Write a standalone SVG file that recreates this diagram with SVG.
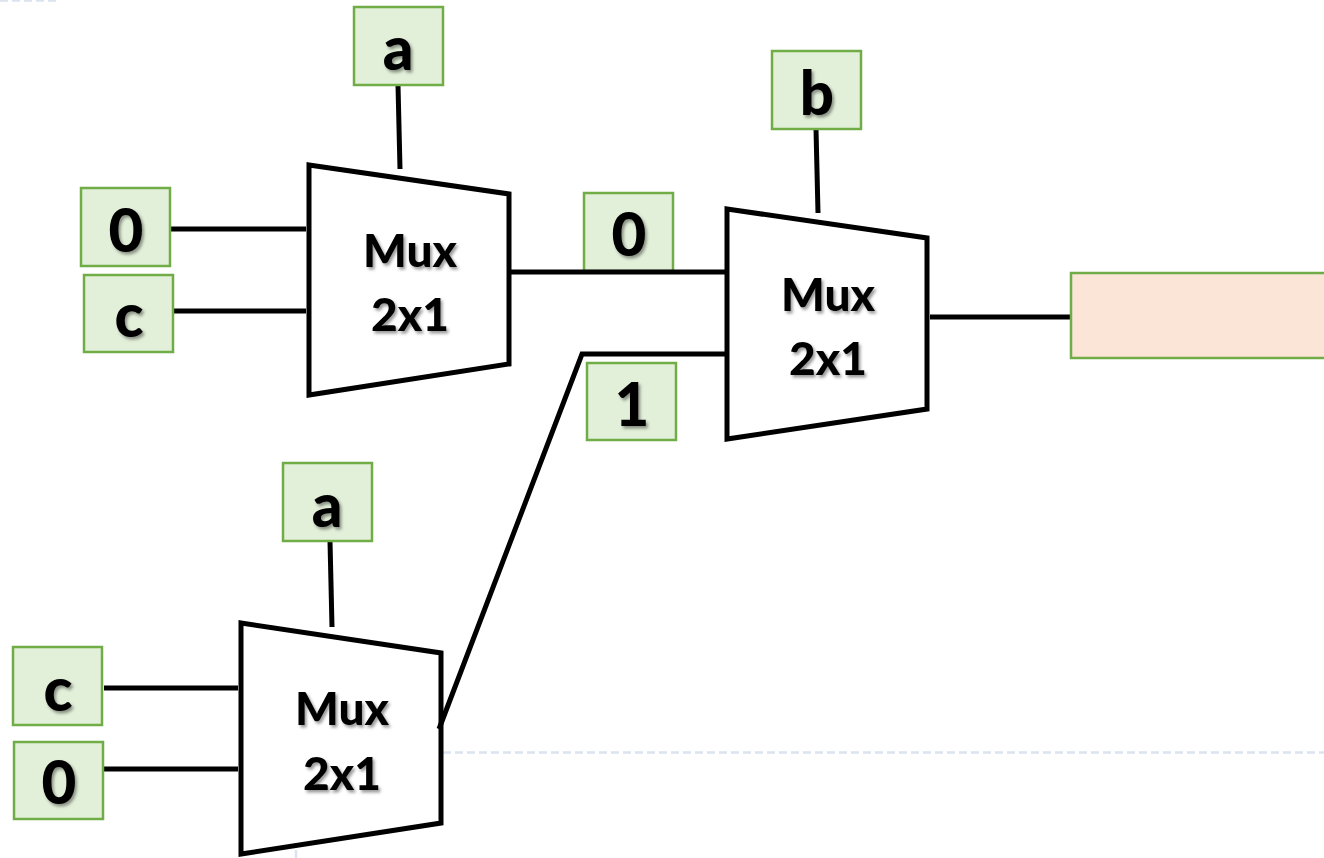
<svg xmlns="http://www.w3.org/2000/svg" width="1324" height="858" viewBox="0 0 1324 858">
<style>
.box{fill:#e2efd9;stroke:#70ad47;stroke-width:2.5}
.out{fill:#fbe5d6;stroke:#70ad47;stroke-width:2.5}
.mux{fill:#fff;stroke:#000;stroke-width:5;stroke-linejoin:miter}
.wire{fill:none;stroke:#000;stroke-width:5}
.guide{fill:none;stroke:#dae3ef;stroke-width:2.5;stroke-dasharray:8 4}
text{font-family:"Lato","Open Sans","Liberation Sans",sans-serif;font-weight:900;fill:#000;text-anchor:middle;filter:url(#sh)}
.big{font-size:60px}
.small{font-size:46px}
</style>
<defs>
<filter id="sh" x="-30%" y="-30%" width="160%" height="160%"><feDropShadow dx="2" dy="2.5" stdDeviation="1.5" flood-color="#000" flood-opacity="0.4"/></filter>
</defs>
<g id="guides">
<path class="guide" d="M0 0.5H57"/>
<path class="guide" d="M443 752.500H1324"/>
<path class="guide" d="M296 850V858" stroke-dasharray="none"/>
</g>
<g id="connectors">
<path class="wire" d="M398 85L400 169"/>
<path class="wire" d="M171 229H306"/>
<path class="wire" d="M174 311H306"/>
<path class="wire" d="M816 129L818 213"/>
<path class="wire" d="M930 317H1070"/>
<path class="wire" d="M330 541L332 627"/>
<path class="wire" d="M104 688H238"/>
<path class="wire" d="M104 769H238"/>
</g>
<g id="mux1"><polygon class="mux" points="309,165 509,194 509,364 309,395"/><text class="small" x="410" y="267">Mux</text><text class="small" x="410" y="331">2x1</text></g>
<g id="mux2"><polygon class="mux" points="727,209 927,238 927,409 727,439"/><text class="small" x="828" y="311">Mux</text><text class="small" x="828" y="375">2x1</text></g>
<g id="mux3"><polygon class="mux" points="241,623 441,653 441,823 241,854"/><text class="small" x="342" y="725">Mux</text><text class="small" x="342" y="790">2x1</text></g>
<g id="a1"><rect class="box" x="354" y="7" width="89" height="78"/><text class="big" x="398" y="70">a</text></g>
<g id="zero1"><rect class="box" x="81" y="188" width="89" height="78"/><text class="big" x="126" y="252">0</text></g>
<g id="c1"><rect class="box" x="84" y="275" width="89" height="77"/><text class="big" x="129" y="337">c</text></g>
<g id="zero-mid"><rect class="box" x="584" y="193" width="89" height="78"/><text class="big" x="629" y="256">0</text></g>
<g id="one-mid"><rect class="box" x="587" y="363" width="89" height="77"/><text class="big" x="632" y="426">1</text></g>
<g id="b1"><rect class="box" x="772" y="51" width="89" height="78"/><text class="big" x="817" y="115">b</text></g>
<g id="a2"><rect class="box" x="283" y="463" width="89" height="78"/><text class="big" x="327" y="527">a</text></g>
<g id="c2"><rect class="box" x="13" y="647" width="89" height="78"/><text class="big" x="58" y="711">c</text></g>
<g id="zero2"><rect class="box" x="14" y="742" width="89" height="77"/><text class="big" x="59" y="804">0</text></g>
<g id="output"><rect class="out" x="1071" y="273" width="260" height="85"/></g>
<g id="connectors-top">
<path class="wire" d="M511 272H725"/>
<path class="wire" d="M725 354H582L439 729"/>
</g>
</svg>
